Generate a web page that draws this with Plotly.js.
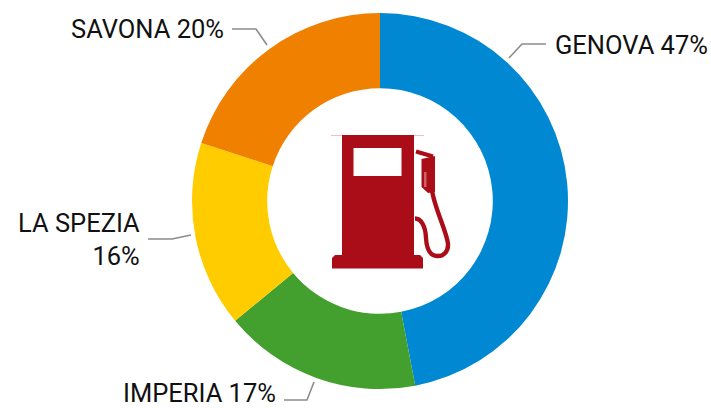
<!DOCTYPE html>
<html>
<head>
<meta charset="utf-8">
<script src="https://cdn.plot.ly/plotly-3.0.1.min.js"></script>
<style>html,body{margin:0;padding:0;background:#fff;overflow:hidden}</style>
</head>
<body>
<div id="chart" style="width:711px;height:408px"></div>
<script>
const categories = ["GENOVA", "IMPERIA", "LA SPEZIA", "SAVONA"];
const shares = [47, 17, 16, 20];
const labelTexts = ["GENOVA 47%", "IMPERIA 17%", "LA SPEZIA<br>16%", "SAVONA 20%"];
const sliceColors = ["#0088D2", "#43A02E", "#FFCC00", "#F08000"];

const W = 711, H = 408;
const px = x => (x / W).toFixed(5);
const py = y => (1 - y / H).toFixed(5);

function pathOf(cmds) {
  return cmds.map(c => {
    if (c.length === 1) return c[0];
    const out = [c[0]];
    for (let i = 1; i < c.length; i += 2) out.push(px(c[i]) + "," + py(c[i + 1]));
    return out.join(" ");
  }).join(" ");
}
function shape(cmds, fill, lineColor, lineWidth) {
  return {
    type: "path", xref: "paper", yref: "paper", layer: "above",
    path: pathOf(cmds), fillcolor: fill,
    line: { color: lineColor, width: lineWidth }
  };
}
const leader = pts => shape(pts.map((p, i) => [i ? "L" : "M", p[0], p[1]]), "rgba(0,0,0,0)", "#8c8c8c", 1.6);
const red = "#AB0D18";

const shapes = [
  leader([[509, 58], [522, 44], [546, 44]]),
  leader([[232, 29], [256, 29], [267, 45]]),
  leader([[148, 239], [172, 239], [191, 235]]),
  leader([[284, 400], [307, 400], [314, 382]]),
  // pump body with window cut out
  shape([["M", 342, 135], ["L", 414, 135], ["L", 414, 255], ["L", 420, 255], ["L", 423, 258], ["L", 423, 268.5],
         ["L", 332, 268.5], ["L", 332, 258], ["L", 335, 255], ["L", 342, 255], ["Z"],
         ["M", 353.5, 148], ["L", 353.5, 176], ["L", 401.5, 176], ["L", 401.5, 148], ["Z"]], red, red, 0),
  shape([["M", 331, 135], ["L", 424, 135], ["L", 424, 135.6], ["L", 331, 135.6], ["Z"]], "rgba(171,13,24,0.5)", "rgba(0,0,0,0)", 0),
  // hose top
  shape([["M", 416, 151.5], ["L", 433, 156.5]], "rgba(0,0,0,0)", red, 4),
  // nozzle
  shape([["M", 421.5, 159], ["L", 435, 156], ["L", 435, 192], ["L", 428, 193], ["L", 421.5, 187], ["Z"]], red, red, 0),
  // nozzle's faint slot
  shape([["M", 424, 172], ["L", 424, 187], ["L", 426.5, 187], ["L", 426.5, 172], ["Z"]], "rgba(255,255,255,0.35)", "rgba(0,0,0,0)", 0),
  // hose loop
  shape([["M", 432, 190], ["C", 434, 207, 447, 232, 448, 244], ["C", 448.5, 252, 443, 256.5, 437, 256],
         ["C", 429, 255.5, 426.5, 248, 426, 238], ["C", 425.5, 226, 421, 218.5, 415, 218.5]],
        "rgba(0,0,0,0)", red, 4.4)
];

const annotation = (i, x, y, anchor) => ({
  text: labelTexts[i], xref: "paper", yref: "paper",
  x: x / W, y: 1 - y / H, xanchor: anchor, yanchor: "middle", align: "right",
  showarrow: false, xshift: 0, yshift: 0,
  font: { family: "Roboto, sans-serif", size: 25.5, color: "#111" }
});

Plotly.newPlot("chart", [{
  type: "pie",
  labels: categories,
  values: shares,
  hole: 0.6,
  sort: false,
  direction: "clockwise",
  rotation: 0,
  textinfo: "none",
  hoverinfo: "label+percent",
  marker: { colors: sliceColors, line: { width: 0 } },
  domain: { x: [192 / W, 568 / W], y: [1 - 389 / H, 1 - 13 / H] }
}], {
  width: W, height: H,
  margin: { l: 0, r: 0, t: 0, b: 0 },
  paper_bgcolor: "#fff",
  showlegend: false,
  shapes: shapes,
  annotations: [
    annotation(0, 710, 45, "right"),
    annotation(1, 278, 393, "right"),
    annotation(2, 142, 239, "right"),
    annotation(3, 226, 29, "right")
  ]
}, { displayModeBar: false, staticPlot: true });
</script>
</body>
</html>
